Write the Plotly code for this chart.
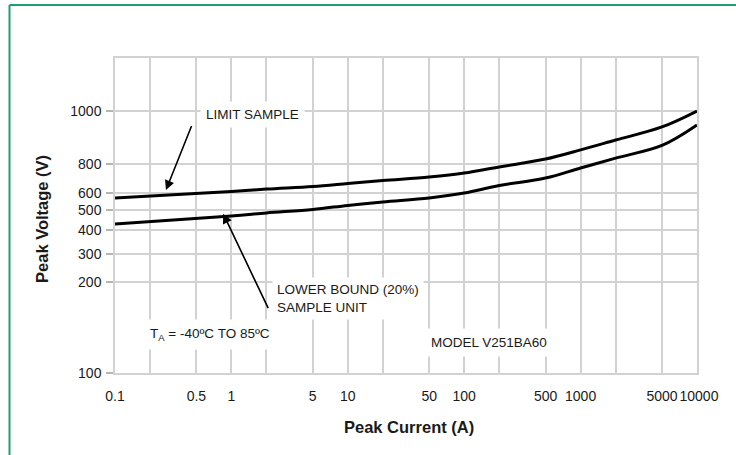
import numpy as np
import plotly.graph_objects as go

# ---- data ----
current_a = [0.1, 1, 2, 5, 10, 20, 50, 100, 200, 500, 1000, 2000, 5000, 10000]
limit_sample_v = [569, 609, 624, 640, 659, 679, 703, 731, 777, 817, 849, 885, 935, 1000]
lower_bound_v = [428, 468, 484, 503, 525, 545, 569, 600, 646, 696, 769, 820, 865, 943]

y_tick_labels = [100, 200, 300, 400, 500, 600, 800, 1000]
x_tick_vals = [0.1, 0.5, 1, 5, 10, 50, 100, 500, 1000, 5000, 10000]
x_tick_text = ["0.1", "0.5", "1", "5", "10", "50", "100", "500", "1000",
               "5000", "\u00a010000"]
x_minor_grid = [0.2, 2, 20, 200, 2000]

# ---- the chart's (non-uniform) voltage scale: axis position of each labelled value ----
Y_AXIS_POS = [0, 91, 119, 143, 163, 180, 209, 262]
Y_TOP = 315


def vscale(v):
    return np.interp(np.log10(np.asarray(v, dtype=float)), np.log10(y_tick_labels), Y_AXIS_POS)


FONT = "Liberation Sans, Arial, sans-serif"
TXT = "#1a1a1a"
GRID = "#d2d2d2"
FRAME = "#1e9e6e"

fig = go.Figure()
for vals in (limit_sample_v, lower_bound_v):
    fig.add_trace(go.Scatter(
        x=current_a, y=vscale(vals), mode="lines",
        line=dict(color="black", width=3, shape="spline", smoothing=1),
        showlegend=False, hoverinfo="skip"))

ann = []
# text labels
ann.append(dict(x=np.log10(0.537), y=vscale(985), xref="x", yref="y", text="LIMIT SAMPLE",
                showarrow=False, xanchor="left", yanchor="middle", bgcolor="white", borderpad=5,
                font=dict(size=13.5, color=TXT, family=FONT)))
ann.append(dict(x=np.log10(2.25), y=vscale(176), xref="x", yref="y",
                text="LOWER BOUND (20%)<br>SAMPLE UNIT", align="left",
                showarrow=False, xanchor="left", yanchor="middle", bgcolor="white", borderpad=4,
                font=dict(size=13.5, color=TXT, family=FONT)))
ann.append(dict(x=np.log10(0.174), y=vscale(133.6), xref="x", yref="y",
                text="T<sub>A</sub> = -40ºC TO 85ºC",
                showarrow=False, xanchor="left", yanchor="middle", bgcolor="white", borderpad=6,
                font=dict(size=13.5, color=TXT, family=FONT)))
ann.append(dict(x=np.log10(45.1), y=vscale(126.6), xref="x", yref="y", text="MODEL V251BA60",
                showarrow=False, xanchor="left", yanchor="middle", bgcolor="white", borderpad=6,
                font=dict(size=13.5, color=TXT, family=FONT)))
# arrows
ann.append(dict(x=np.log10(0.274), y=vscale(618), ax=np.log10(0.46), ay=vscale(945),
                xref="x", yref="y", axref="x", ayref="y", text="", showarrow=True,
                arrowhead=2, arrowsize=1.2, arrowwidth=1.6, arrowcolor="black", standoff=0))
ann.append(dict(x=np.log10(0.85), y=vscale(480), ax=np.log10(2.1), ay=vscale(162),
                xref="x", yref="y", axref="x", ayref="y", text="", showarrow=True,
                arrowhead=2, arrowsize=1.2, arrowwidth=1.6, arrowcolor="black", standoff=0))
# axis titles
ann.append(dict(x=-0.1254, y=0.489, xref="paper", yref="paper", text="<b>Peak Voltage (V)</b>",
                textangle=-90, showarrow=False, xanchor="center", yanchor="middle",
                font=dict(size=16.5, color=TXT, family=FONT)))
ann.append(dict(x=0.505, y=-0.171, xref="paper", yref="paper", text="<b>Peak Current (A)</b>",
                showarrow=False, xanchor="center", yanchor="middle",
                font=dict(size=16.5, color=TXT, family=FONT)))

# frame: left edge and top edge of the green border (in paper units outside the plot area)
fx0 = (9.5 - 115) / 582
fx1 = (736 - 115) / 582
fy_top = (373 - 5) / 315
fy_bot = (373 - 455) / 315
shapes = [
    dict(type="line", xref="paper", yref="paper", x0=fx0, x1=fx1, y0=fy_top, y1=fy_top,
         line=dict(color=FRAME, width=2), layer="above"),
    dict(type="line", xref="paper", yref="paper", x0=fx0, x1=fx0, y0=fy_bot, y1=fy_top,
         line=dict(color=FRAME, width=2), layer="above"),
]

fig.update_layout(
    width=736, height=455,
    margin=dict(l=115, r=39, t=58, b=82),
    paper_bgcolor="white", plot_bgcolor="white",
    annotations=ann, shapes=shapes,
    font=dict(family=FONT, color=TXT),
)
fig.update_xaxes(type="log", range=[-1, 4], tickvals=x_tick_vals, ticktext=x_tick_text,
                 tickangle=0,
                 showgrid=True, gridcolor=GRID, gridwidth=1.5, zeroline=False,
                 minor=dict(tickvals=x_minor_grid, showgrid=True, gridcolor=GRID, gridwidth=1.5, ticks=""),
                 showline=True, linecolor=GRID, linewidth=1.5, mirror=True,
                 ticks="", ticklabelstandoff=9,
                 tickfont=dict(size=14, color=TXT, family=FONT))
fig.update_yaxes(range=[0, Y_TOP], tickvals=list(vscale(y_tick_labels)),
                 ticktext=[str(v) for v in y_tick_labels],
                 showgrid=True, gridcolor=GRID, gridwidth=1.5, zeroline=False,
                 showline=True, linecolor=GRID, linewidth=1.5, mirror=True,
                 ticks="outside", ticklen=7, tickcolor="#b5b5b5", tickwidth=1.5,
                 ticklabelstandoff=2,
                 tickfont=dict(size=14, color=TXT, family=FONT))

fig.write_html("out.html", config={"displayModeBar": False},
               post_script="document.body.style.margin='0';")
